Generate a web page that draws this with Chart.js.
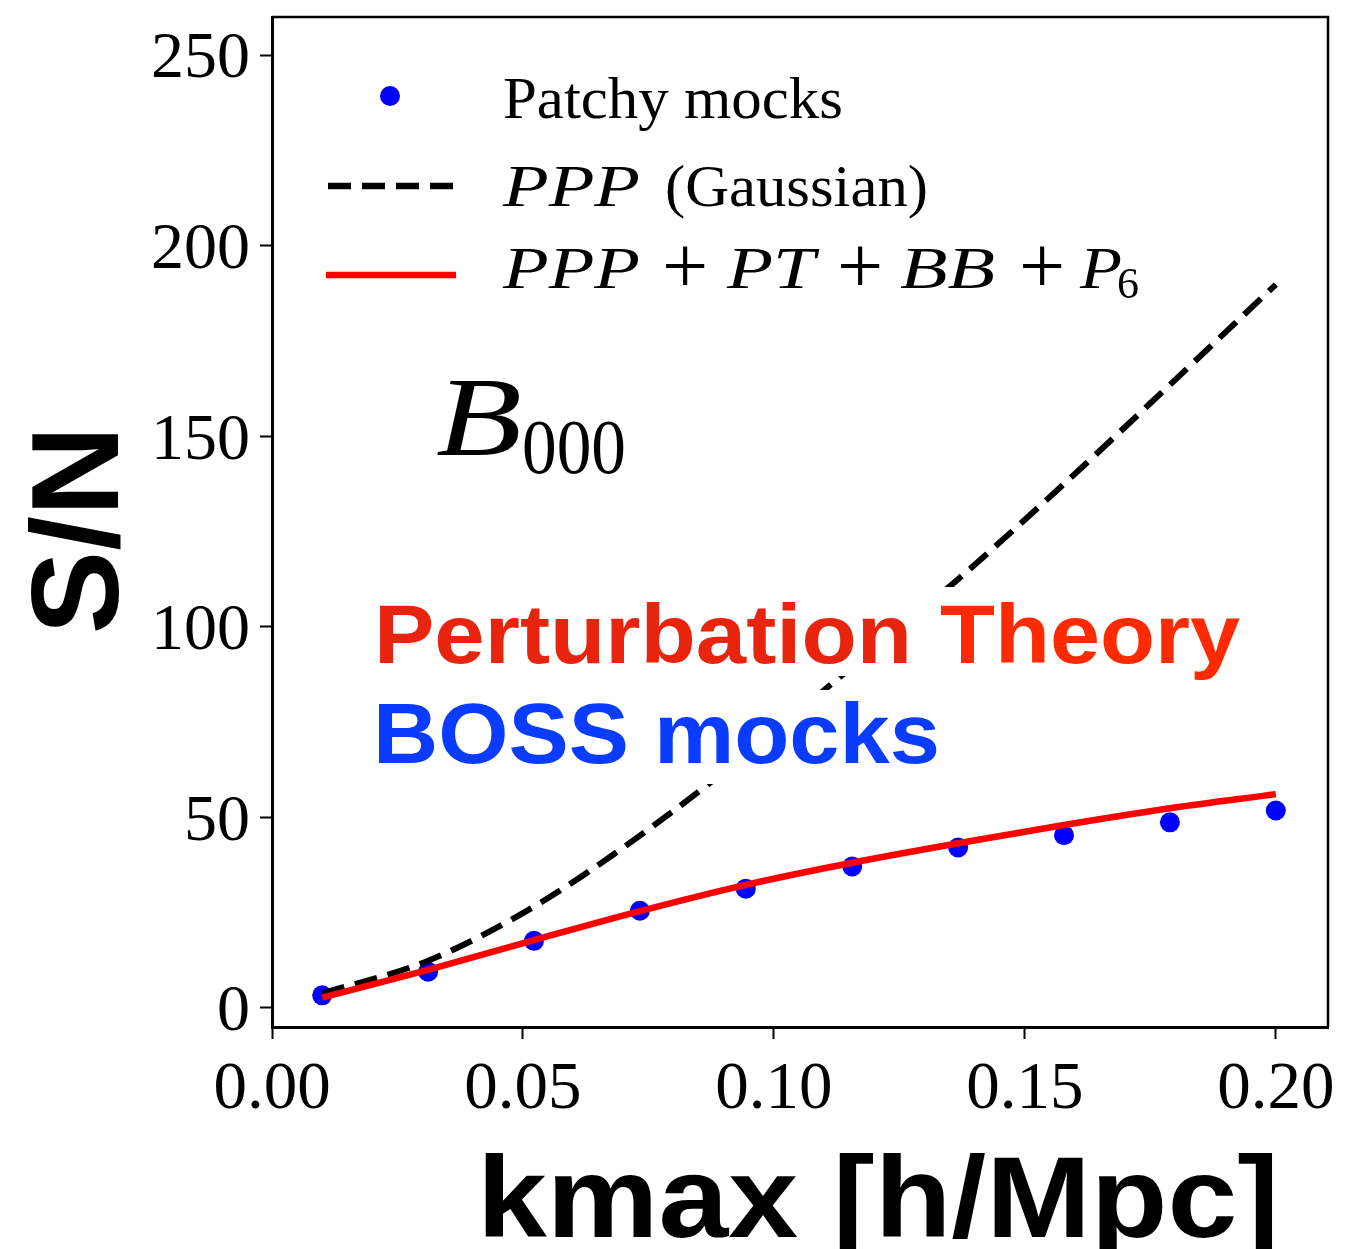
<html>
<head>
<script src="https://cdn.jsdelivr.net/npm/chart.js@4.4.0/dist/chart.umd.min.js"></script>
<style>body{margin:0;background:#fff}</style>
</head>
<body>
<canvas id="snChart" width="1345" height="1249"></canvas>
<script>
// kmax bins [h/Mpc]
const kmax = [0.01, 0.0311, 0.0522, 0.0733, 0.0944, 0.1156, 0.1367, 0.1578, 0.1789, 0.2];
// S/N measured on Patchy mocks
const patchySN = [3.3, 9.5, 17.6, 25.5, 31.3, 37.1, 42.1, 45.3, 48.7, 51.8];
// PPP (Gaussian) prediction
const gaussianSN = [3.8, 12.4, 26.6, 45.2, 66.5, 89.5, 112.5, 137.5, 163.5, 189.8];
// PPP + PT + BB + P6 prediction
const ptSN = [2.7, 10.0, 17.8, 25.4, 32.3, 38.1, 43.2, 48.0, 52.4, 56.1];

const xTicks = [0, 0.05, 0.1, 0.15, 0.2];
const yTicks = [0, 50, 100, 150, 200, 250];

const SERIF = '"Liberation Serif", "DejaVu Serif", serif';
const SANS = '"Liberation Sans", Arial, sans-serif';

Chart.defaults.color = '#000';

const toPts = ys => kmax.map((k, i) => ({ x: k, y: ys[i] }));

// text piece drawn at x, stretched to width w (if given)
function piece(ctx, text, font, x, y, w) {
    ctx.save();
    ctx.font = font;
    const m = ctx.measureText(text).width;
    ctx.translate(x, y);
    if (w) ctx.scale(w / m, 1);
    ctx.fillText(text, 0, 0);
    ctx.restore();
}

const decor = {
    id: 'decor',
    afterDatasetsDraw(chart) {
        const ctx = chart.ctx;
        const a = chart.chartArea;
        ctx.save();
        ctx.textBaseline = 'alphabetic';
        ctx.textAlign = 'left';
        // thin top / right frame
        ctx.strokeStyle = '#000';
        ctx.lineWidth = 2.5;
        ctx.beginPath();
        ctx.moveTo(a.left, a.top);
        ctx.lineTo(a.right, a.top);
        ctx.lineTo(a.right, a.bottom);
        ctx.stroke();

        // pasted labels with white boxes
        ctx.fillStyle = '#fff';
        ctx.fillRect(368, 587, 878, 89);
        ctx.fillRect(368, 690, 578, 94);
        const bold84 = 'bold 84px ' + SANS;
        ctx.fillStyle = '#e8240f';
        piece(ctx, 'Perturbation', bold84, 374, 663, 538);
        ctx.fillStyle = '#ff2a00';
        piece(ctx, 'Theory', bold84, 940, 663, 300);
        ctx.fillStyle = '#0a3cff';
        piece(ctx, 'BOSS mocks', 'bold 85px ' + SANS, 373, 763, 567);

        // B_000 annotation
        ctx.fillStyle = '#000';
        piece(ctx, 'B', 'italic 112px ' + SERIF, 436, 455, 86);
        piece(ctx, '000', '78px ' + SERIF, 522, 473, 104);

        // legend
        ctx.fillStyle = '#0000ff';
        ctx.beginPath();
        ctx.arc(390, 96, 10, 0, Math.PI * 2);
        ctx.fill();
        ctx.strokeStyle = '#000';
        ctx.lineWidth = 6.5;
        ctx.setLineDash([23, 11]);
        ctx.beginPath();
        ctx.moveTo(328, 186);
        ctx.lineTo(455, 186);
        ctx.stroke();
        ctx.setLineDash([]);
        ctx.strokeStyle = '#ff0000';
        ctx.lineWidth = 6.5;
        ctx.beginPath();
        ctx.moveTo(326, 275);
        ctx.lineTo(456, 275);
        ctx.stroke();

        ctx.fillStyle = '#000';
        const it = 'italic 60px ' + SERIF, rm = '60px ' + SERIF, op = '82px ' + SERIF;
        piece(ctx, 'Patchy mocks', rm, 503, 118, 340);
        piece(ctx, 'PPP', it, 503, 206, 137);
        piece(ctx, '(Gaussian)', rm, 665, 206, 263);
        piece(ctx, 'PPP', it, 503, 288, 137);
        piece(ctx, '+', op, 662, 293);
        piece(ctx, 'PT', it, 727, 288, 88);
        piece(ctx, '+', op, 837, 293);
        piece(ctx, 'BB', it, 900, 288, 95);
        piece(ctx, '+', op, 1019, 293);
        piece(ctx, 'P', it, 1080, 288, 42);
        piece(ctx, '6', '44px ' + SERIF, 1117, 298);

        // axis titles
        piece(ctx, 'kmax [h/Mpc]', 'bold 115px ' + SANS, 477, 1237, 802);
        ctx.save();
        ctx.translate(118, 530);
        ctx.rotate(-Math.PI / 2);
        ctx.font = 'bold 125px ' + SANS;
        const w = ctx.measureText('S/N').width;
        ctx.fillText('S/N', -w / 2, 0);
        ctx.restore();
        ctx.restore();
    }
};

const chart = new Chart(document.getElementById('snChart').getContext('2d'), {
    type: 'scatter',
    data: {
        datasets: [
            {
                label: 'PPP + PT + BB + P6',
                data: toPts(ptSN),
                showLine: true,
                borderColor: '#ff0000',
                borderWidth: 6.5,
                pointRadius: 0,
                cubicInterpolationMode: 'monotone',
                order: 0
            },
            {
                label: 'PPP (Gaussian)',
                data: toPts(gaussianSN),
                showLine: true,
                borderColor: '#000',
                borderWidth: 6,
                borderDash: [23, 11],
                pointRadius: 0,
                cubicInterpolationMode: 'monotone',
                order: 1
            },
            {
                label: 'Patchy mocks',
                data: toPts(patchySN),
                backgroundColor: '#0000ff',
                borderWidth: 0,
                pointRadius: 10,
                order: 2
            }
        ]
    },
    options: {
        responsive: false,
        animation: false,
        events: [],
        layout: { padding: { top: 17, right: 17, left: 0, bottom: 0 } },
        plugins: { legend: { display: false }, tooltip: { enabled: false } },
        scales: {
            x: {
                type: 'linear',
                min: 0,
                max: 0.2104,
                afterBuildTicks: s => { s.ticks = xTicks.map(v => ({ value: v })); },
                afterFit: s => { s.height = 222; s.paddingLeft = 0; s.paddingRight = 0; },
                ticks: {
                    font: { family: SERIF, size: 67 },
                    padding: 11,
                    maxRotation: 0,
                    callback: v => v.toFixed(2)
                },
                grid: { drawOnChartArea: false, tickLength: 12, tickWidth: 2, tickColor: '#000' },
                border: { color: '#000', width: 3 }
            },
            y: {
                min: -5,
                max: 260,
                afterBuildTicks: s => { s.ticks = yTicks.map(v => ({ value: v })); },
                afterFit: s => { s.width = 272; s.paddingTop = 0; s.paddingBottom = 0; },
                ticks: {
                    font: { family: SERIF, size: 66 },
                    padding: 10,
                    labelOffset: 5
                },
                grid: { drawOnChartArea: false, tickLength: 12, tickWidth: 2, tickColor: '#000' },
                border: { color: '#000', width: 3 }
            }
        }
    },
    plugins: [decor]
});
</script>
</body>
</html>
